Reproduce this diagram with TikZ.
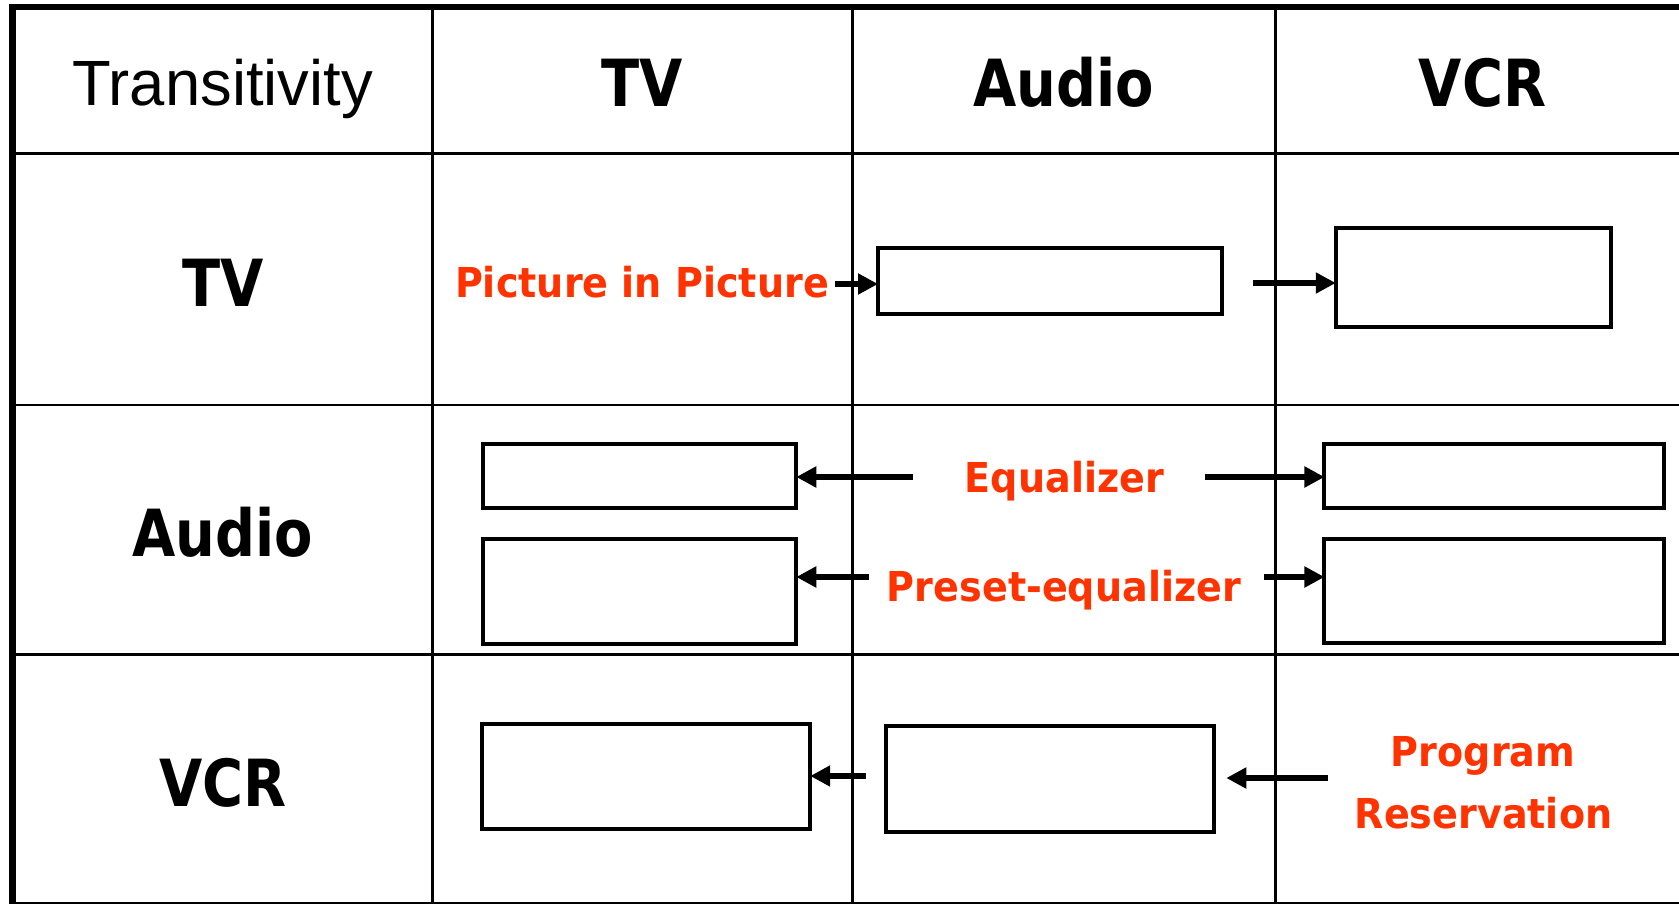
\documentclass[tikz,border=0pt]{standalone}
\usepackage{fontspec}
\usetikzlibrary{arrows.meta}
\newfontfamily\headfont[FakeStretch=0.86]{DejaVu Sans}
\newfontfamily\labelfont[FakeStretch=0.925]{DejaVu Sans}
\newfontfamily\titlefont[FakeStretch=0.99]{Liberation Sans}
\definecolor{labelred}{HTML}{FF3300}

\begin{document}
\begin{tikzpicture}[x=1pt,y=-1pt,
  grid/.style={line width=2.8pt},
  frame/.style={line width=6.8pt},
  corner/.style={font=\titlefont\fontsize{64}{70}\selectfont, anchor=base, inner sep=0pt},
  head/.style={font=\headfont\bfseries\fontsize{65}{70}\selectfont, anchor=base, inner sep=0pt},
  lbl/.style={font=\labelfont\bfseries\fontsize{41.2}{50}\selectfont, text=labelred, anchor=base, inner sep=0pt},
  slot/.style={draw, line width=4pt, inner sep=0pt, outer sep=0pt, fill=white},
  link/.style={line width=6pt, -{Triangle[length=20pt,width=20pt]}},
]
\useasboundingbox (0,0) rectangle (1679,904);
\fill[white] (0,0) rectangle (1679,904);

% table rules
\draw[grid] (9,153.8) -- (1690,153.8);
\draw[grid] (9,405) -- (1690,405);
\draw[grid] (9,654.5) -- (1690,654.5);
\draw[grid] (9,903.5) -- (1690,903.5);
\draw[grid] (432.6,7) -- (432.6,910);
\draw[grid] (852.5,7) -- (852.5,910);
\draw[grid] (1275.2,7) -- (1275.2,910);
\draw[frame] (9,7) -- (1690,7);
\draw[frame] (12.5,4) -- (12.5,910);

% column and row headings
\node[corner] (corner) at (222.7,106) {Transitivity};
\node[head] (hTV) at (642.5,107) {TV};
\node[head] (hAudio) at (1063.5,107) {Audio};
\node[head] (hVCR) at (1482.5,107) {VCR};
\node[head] (rTV) at (222.7,306) {TV};
\node[head] (rAudio) at (222.7,556) {Audio};
\node[head] (rVCR) at (222.7,806) {VCR};

% feature labels
\node[lbl] (pip) at (642,297) {Picture in Picture};
\node[lbl] (eq) at (1064.5,492) {Equalizer};
\node[lbl] (pre) at (1064,601) {Preset-equalizer};
\node[lbl] (prog) at (1483,766.7) {Program};
\node[lbl] (res) at (1483.5,828.3) {Reservation};

% empty slots
\node[slot, minimum width=344pt, minimum height=66pt] (A) at (1050,280.7) {};
\node[slot, minimum width=275.5pt, minimum height=99.5pt] (B) at (1473.5,277.5) {};
\node[slot, minimum width=313.5pt, minimum height=64pt] (C) at (639.5,476.4) {};
\node[slot, minimum width=313.5pt, minimum height=104.5pt] (D) at (639.5,591.3) {};
\node[slot, minimum width=339.3pt, minimum height=64.5pt] (E) at (1494.1,476) {};
\node[slot, minimum width=339.3pt, minimum height=104.8pt] (F) at (1494.1,590.9) {};
\node[slot, minimum width=328pt, minimum height=105pt] (G) at (646.2,776.4) {};
\node[slot, minimum width=328pt, minimum height=105.5pt] (H) at (1050.3,778.8) {};

% arrow tails
\coordinate (pipTail) at (835,284);
\coordinate (aTail) at (1253,283);
\coordinate (eqLeft) at (913,477);
\coordinate (eqRight) at (1204.7,477);
\coordinate (preLeft) at (869,577);
\coordinate (preRight) at (1264,577);
\coordinate (hTail) at (866,776);
\coordinate (progTail) at (1328,778);

% arrows
\draw[link] (pipTail) -- (A.west |- pipTail);
\draw[link] (aTail) -- (B.west |- aTail);
\draw[link] (eqLeft) -- (C.east |- eqLeft);
\draw[link] (eqRight) -- (E.west |- eqRight);
\draw[link] (preLeft) -- (D.east |- preLeft);
\draw[link] (preRight) -- (F.west |- preRight);
\draw[link] (hTail) -- (G.east |- hTail);
\draw[link] (progTail) -- ([xshift=12pt]H.east |- progTail);
\end{tikzpicture}
\end{document}
